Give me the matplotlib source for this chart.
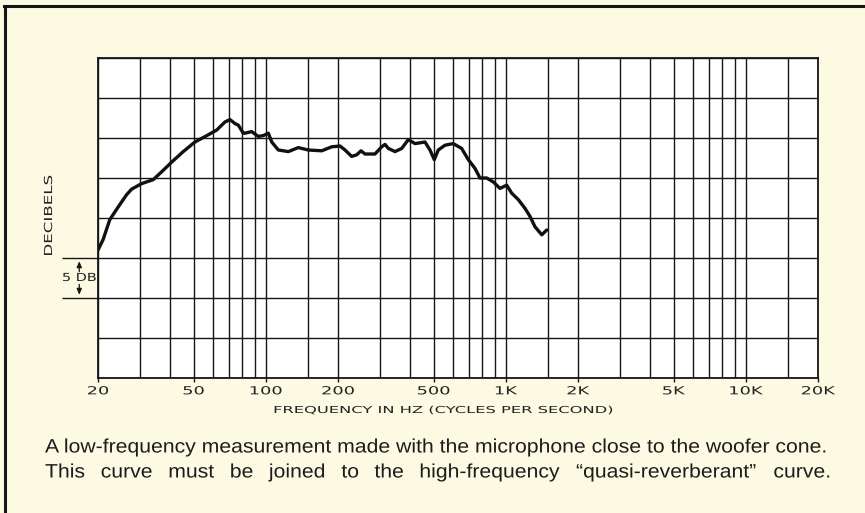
import matplotlib
matplotlib.use("Agg")
import matplotlib.pyplot as plt
from matplotlib.lines import Line2D
from matplotlib.patheffects import AbstractPathEffect
from matplotlib.ticker import FixedLocator, NullFormatter, FixedFormatter
from matplotlib.transforms import Affine2D, blended_transform_factory

# woofer response, near-field microphone (Hz, dB above bottom grid line)
freq_hz = [20, 21.0, 22.4, 24.3, 26.3, 27.6, 30.4, 34.0, 36.9, 40.6, 45.3, 50.7,
           57.6, 62.5, 67.6, 70.9, 74.5, 76.9, 80.6, 81.9, 87.3, 93.1, 97.7,
           102.5, 105.9, 112.8, 124.2, 136.6, 150.4, 171.1, 188.3, 203.9, 213.9,
           228.0, 239.3, 249.4, 259.1, 285.1, 304.1, 314.0, 324.2, 345.7, 368.6,
           392.7, 418.8, 460.8, 483.3, 503.8, 523.5, 558.4, 604.0, 654.7, 698.0,
           744.5, 781.0, 833.4, 888.0, 946.2, 1009, 1059, 1128, 1203, 1262, 1324,
           1413, 1482]
level_db = [16.0, 17.3, 19.8, 21.4, 22.9, 23.6, 24.3, 24.8, 25.8, 27.0, 28.3, 29.5,
            30.4, 31.0, 32.0, 32.3, 31.8, 31.6, 30.6, 30.6, 30.8, 30.2, 30.3,
            30.6, 29.5, 28.5, 28.3, 28.8, 28.5, 28.4, 28.9, 29.0, 28.5,
            27.7, 27.9, 28.4, 28.0, 28.0, 28.9, 29.2, 28.7, 28.3, 28.7,
            29.8, 29.3, 29.5, 28.5, 27.3, 28.5, 29.1, 29.3, 28.7, 27.3,
            26.2, 25.0, 25.0, 24.5, 23.7, 24.1, 23.1, 22.3, 21.2, 20.2, 18.9,
            17.9, 18.5]

tick_hz = [20, 50, 100, 200, 500, 1000, 2000, 5000, 10000, 20000]
tick_labels = ["20", "50", "100", "200", "500", "1K", "2K", "5K", "10K", "20K"]
grid_hz = [20, 30, 40, 50, 60, 70, 80, 90, 100, 150,
           200, 300, 400, 500, 600, 700, 800, 900, 1000, 1500,
           2000, 3000, 4000, 5000, 6000, 7000, 8000, 9000, 10000, 15000, 20000]
grid_db = [0, 5, 10, 15, 20, 25, 30, 35, 40]
scale_db = [10, 15]

caption_1 = "A low-frequency measurement made with the microphone close to the woofer cone."
caption_2 = "This curve must be joined to the high-frequency \u201cquasi-reverberant\u201d curve."

PAPER = "#fcfae2"
INK = "#161616"


class Widen(AbstractPathEffect):
    """Stretch glyphs sideways, about their centre or their left end."""

    def __init__(self, sx, anchor="center"):
        super().__init__()
        self.sx = sx
        self.anchor = anchor

    def draw_path(self, renderer, gc, tpath, affine, rgbFace=None):
        if self.anchor == "center":
            ext = tpath.get_extents()
            cx = (ext.x0 + ext.x1) / 2
        else:
            cx = 0
        stretch = Affine2D().translate(-cx, 0).scale(self.sx, 1).translate(cx, 0)
        renderer.draw_path(gc, tpath, stretch + affine, rgbFace)


fig = plt.figure(figsize=(8.65, 5.13), dpi=100, facecolor=PAPER)
ax = fig.add_axes([98 / 865, 1 - 378 / 513, 720 / 865, 320 / 513])
ax.set_facecolor("white")

ax.set_xscale("log")
ax.set_xlim(20, 20000)
ax.set_ylim(0, 40)

ax.xaxis.set_major_locator(FixedLocator(tick_hz))
ax.xaxis.set_major_formatter(FixedFormatter(tick_labels))
ax.xaxis.set_minor_locator(FixedLocator(grid_hz))
ax.xaxis.set_minor_formatter(NullFormatter())
ax.yaxis.set_major_locator(FixedLocator(scale_db))
ax.yaxis.set_major_formatter(NullFormatter())
ax.yaxis.set_minor_locator(FixedLocator(grid_db))

ax.grid(which="both", color=INK, linewidth=1.0)
ax.tick_params(axis="x", which="major", length=3, width=1.0, color=INK, pad=3,
               labelsize=8, labelcolor="#222222")
ax.tick_params(axis="x", which="minor", length=0)
ax.tick_params(axis="y", which="major", length=26, width=1.0, color=INK)
ax.tick_params(axis="y", which="minor", length=0)
for lab in ax.get_xticklabels():
    lab.set_path_effects([Widen(1.6)])
for sp in ax.spines.values():
    sp.set_color(INK)
    sp.set_linewidth(1.3)

ax.plot(freq_hz, level_db, color="#111111", linewidth=2.4,
        solid_capstyle="round", solid_joinstyle="round", zorder=3)

ax.set_xlabel("FREQUENCY IN HZ (CYCLES PER SECOND)", fontsize=6.9,
              color="#222222", va="center",
              path_effects=[Widen(1.7)])
ax.xaxis.set_label_coords(0.4806, -0.10)

# left margin: axis name and the 5 dB scale marker
side = blended_transform_factory(ax.transAxes, ax.transData)
ax.text(-0.068, 20.3, "DECIBELS", transform=side, rotation=90, fontsize=8,
        color="#222222", ha="center", va="center", path_effects=[Widen(1.5)])
ax.text(-0.026, 12.5, "5 DB", transform=side, fontsize=8, color="#222222",
        ha="center", va="center", path_effects=[Widen(1.3)])
arrow = dict(arrowstyle="-|>,head_length=0.35,head_width=0.15", color=INK,
             linewidth=0.9, shrinkA=0, shrinkB=0)
ax.annotate("", xy=(-0.026, 14.6), xytext=(-0.026, 13.3), xycoords=side,
            textcoords=side, arrowprops=arrow, annotation_clip=False)
ax.annotate("", xy=(-0.026, 10.4), xytext=(-0.026, 11.7), xycoords=side,
            textcoords=side, arrowprops=arrow, annotation_clip=False)

# caption, second line spread out to the width of the first
cap_sx = 1.09
cap_font = dict(fontsize=14, family="Liberation Sans", color="#1c1c1c", va="center",
                path_effects=[Widen(cap_sx, anchor="left")])
left = 45 / 865
first = fig.text(left, 1 - 448 / 513, caption_1, **cap_font)
renderer = fig.canvas.get_renderer()
width = cap_sx * first.get_window_extent(renderer).width / fig.bbox.width
words = [fig.text(left, 1 - 473 / 513, w, **cap_font) for w in caption_2.split()]
sizes = [cap_sx * w.get_window_extent(renderer).width / fig.bbox.width for w in words]
gap = (width - sum(sizes)) / (len(words) - 1)
x = left
for w, s in zip(words, sizes):
    w.set_x(x)
    x += s + gap

# page frame
fig.add_artist(Line2D([4 / 865, 1], [1 - 6 / 513, 1 - 6 / 513], color=INK,
                      linewidth=2.2, transform=fig.transFigure))
fig.add_artist(Line2D([5 / 865, 5 / 865], [0, 1 - 6 / 513], color=INK,
                      linewidth=2.2, transform=fig.transFigure))

fig.savefig("out.png", dpi=100, facecolor=PAPER)
